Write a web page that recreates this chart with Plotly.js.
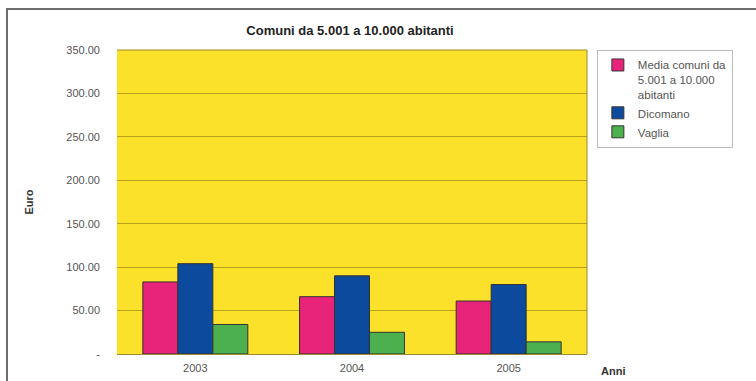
<!DOCTYPE html>
<html><head><meta charset="utf-8">
<script src="https://cdn.plot.ly/plotly-3.0.1.min.js"></script>
<style>
html,body{margin:0;padding:0;width:756px;height:381px;overflow:hidden;background:#fff;}
#frame{position:absolute;left:6px;top:8px;width:800px;height:400px;border:2px solid #6e6e6e;box-sizing:border-box;}
#chart{position:absolute;left:0;top:0;width:756px;height:381px;}
</style></head>
<body>
<div id="frame"></div>
<div id="chart"></div>
<script>
const years = ["2003", "2004", "2005"];
const seriesNames = ["Media comuni da<br>5.001 a 10.000<br>abitanti", "Dicomano", "Vaglia"];
const mediaValues = [83, 66, 61];
const dicomanoValues = [104, 90, 80];
const vagliaValues = [34, 25, 14];
const yTickVals = [0, 50, 100, 150, 200, 250, 300, 350];
const yTickText = ["-", "50.00", "100.00", "150.00", "200.00", "250.00", "300.00", "350.00"];
const colors = ["#E8237A", "#0B4A9C", "#4DB04E"];
const allValues = [mediaValues, dicomanoValues, vagliaValues];

const traces = allValues.map((vals, i) => ({
  type: "bar",
  x: years,
  y: vals,
  name: seriesNames[i],
  marker: {color: colors[i], line: {color: "#333333", width: 1}},
  hoverinfo: "skip"
}));

const font = "Liberation Sans, Arial, sans-serif";
const layout = {
  width: 756, height: 381,
  margin: {l: 117, r: 169, t: 50, b: 27},
  paper_bgcolor: "rgba(0,0,0,0)",
  plot_bgcolor: "#FCE12B",
  barmode: "group",
  bargap: 0.33,
  bargroupgap: 0,
  showlegend: true,
  font: {family: font, size: 11, color: "#555555"},
  title: {text: "<b>Comuni da 5.001 a 10.000 abitanti</b>", font: {family: font, size: 13, color: "#222222"}, x: 0.463, xanchor: "center", y: 0.92, yanchor: "middle"},
  xaxis: {
    type: "category", showgrid: false, zeroline: false,
    showline: true, linecolor: "#9a8a30", linewidth: 1,
    ticks: "", ticklabelstandoff: 4,
    tickfont: {family: font, size: 11, color: "#555555"}
  },
  yaxis: {
    range: [0, 350], tickvals: yTickVals, ticktext: yTickText,
    showgrid: true, gridcolor: "#B9A21C", gridwidth: 1,
    zeroline: false, showline: false, ticks: "", ticklabelstandoff: 16,
    tickfont: {family: font, size: 11, color: "#555555"},
    title: {text: "<b>Euro</b>", font: {family: font, size: 11, color: "#333333"}, standoff: 30}
  },
  legend: {
    x: 1.021, xanchor: "left", y: 1.0, yanchor: "top", valign: "top",
    bordercolor: "#bbbbbb", borderwidth: 1, bgcolor: "#ffffff",
    font: {family: font, size: 11.5, color: "#555555"},
    tracegroupgap: 10, itemwidth: 30
  },
  shapes: [
    {type: "line", xref: "paper", yref: "paper", x0: 1, x1: 1, y0: 0, y1: 1, line: {color: "#9a8a30", width: 1}},
    {type: "line", xref: "paper", yref: "paper", x0: 0, x1: 1, y0: 1, y1: 1, line: {color: "#9a8a30", width: 1}}
  ],
  annotations: [
    {text: "<b>Anni</b>", xref: "paper", yref: "paper", x: 1.026, y: -0.055, xanchor: "left", yanchor: "middle", showarrow: false, font: {family: font, size: 11, color: "#333333"}}
  ]
};

Plotly.newPlot("chart", traces, layout, {staticPlot: true, displayModeBar: false});
</script>
</body></html>
